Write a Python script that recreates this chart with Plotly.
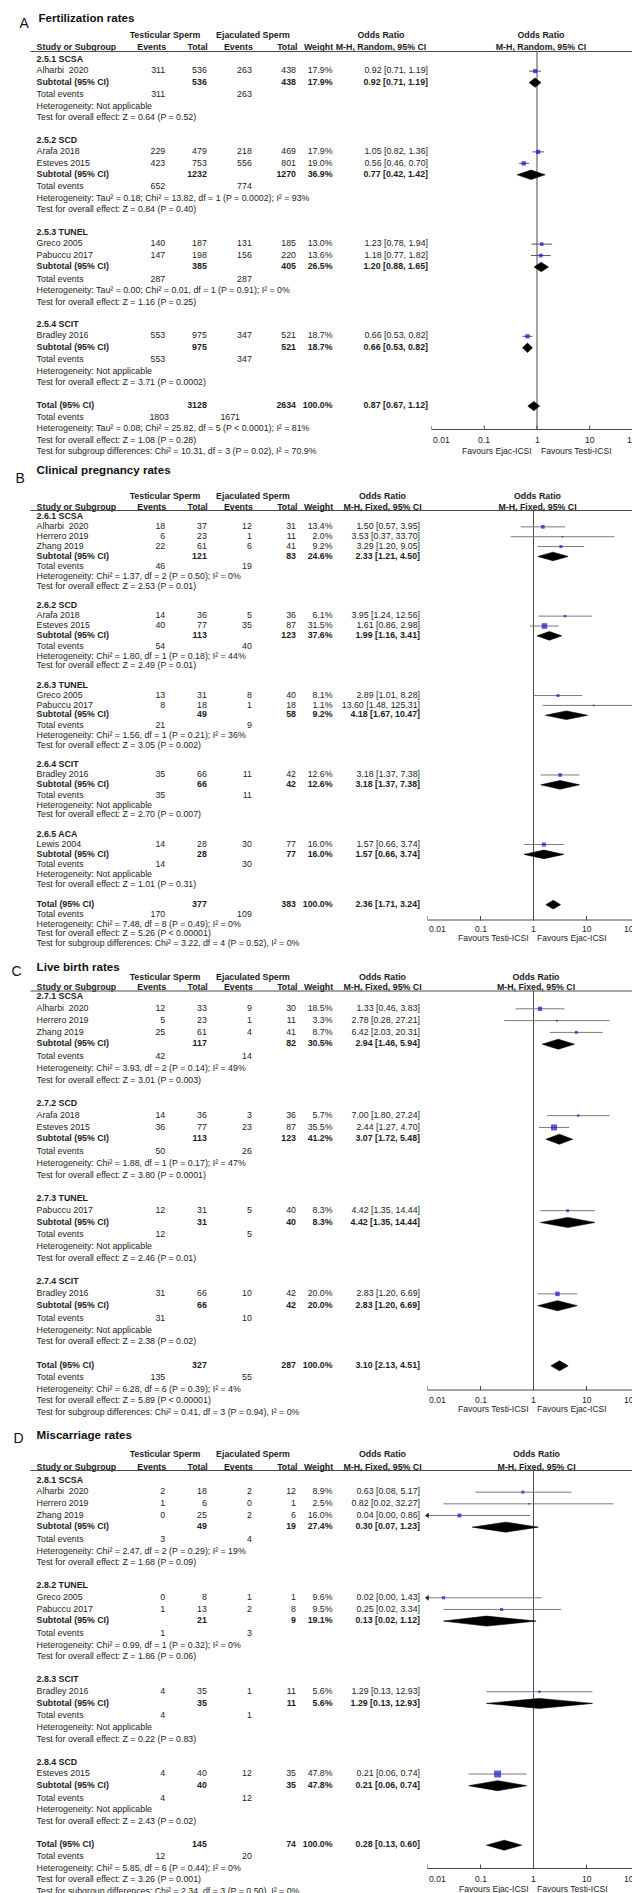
import math
import plotly.graph_objects as go

# ======================= DATA =======================
# ---- Panel A: Fertilization rates ----
A_letter, A_title, A_method = "A", "Fertilization rates", "M-H, Random, 95% CI"
A_favours = ["Favours Ejac-ICSI", "Favours Testi-ICSI"]
A_study = ["Alharbi  2020", "Arafa 2018", "Esteves 2015", "Greco 2005", "Pabuccu 2017", "Bradley 2016"]
A_group = [0, 1, 1, 2, 2, 3]
A_te = [311, 229, 423, 140, 147, 553]
A_tt = [536, 479, 753, 187, 198, 975]
A_ee = [263, 218, 556, 131, 156, 347]
A_et = [438, 469, 801, 185, 220, 521]
A_w = [17.9, 17.9, 19.0, 13.0, 13.6, 18.7]
A_or = [0.92, 1.05, 0.56, 1.23, 1.18, 0.66]
A_lo = [0.71, 0.82, 0.46, 0.78, 0.77, 0.53]
A_hi = [1.19, 1.36, 0.70, 1.94, 1.82, 0.82]
A_sub = ["2.5.1 SCSA", "2.5.2 SCD", "2.5.3 TUNEL", "2.5.4 SCIT"]
A_sub_tt = [536, 1232, 385, 975]
A_sub_et = [438, 1270, 405, 521]
A_sub_w = [17.9, 36.9, 26.5, 18.7]
A_sub_or = [0.92, 0.77, 1.20, 0.66]
A_sub_lo = [0.71, 0.42, 0.88, 0.53]
A_sub_hi = [1.19, 1.42, 1.65, 0.82]
A_sub_te = [311, 652, 287, 553]
A_sub_ee = [263, 774, 287, 347]
A_sub_het = ["Not applicable",
             "Tau² = 0.18; Chi² = 13.82, df = 1 (P = 0.0002); I² = 93%",
             "Tau² = 0.00; Chi² = 0.01, df = 1 (P = 0.91); I² = 0%",
             "Not applicable"]
A_sub_z = ["Z = 0.64 (P = 0.52)", "Z = 0.84 (P = 0.40)", "Z = 1.16 (P = 0.25)", "Z = 3.71 (P = 0.0002)"]
A_tot = [3128, 2634, 100.0, 0.87, 0.67, 1.12, 1803, 1671]
A_tot_het = "Tau² = 0.08; Chi² = 25.82, df = 5 (P < 0.0001); I² = 81%"
A_tot_z = "Z = 1.08 (P = 0.28)"
A_tot_subdiff = "Chi² = 10.31, df = 3 (P = 0.02), I² = 70.9%"

# ---- Panel B: Clinical pregnancy rates ----
B_letter, B_title, B_method = "B", "Clinical pregnancy rates", "M-H, Fixed, 95% CI"
B_favours = ["Favours Testi-ICSI", "Favours Ejac-ICSI"]
B_study = ["Alharbi  2020", "Herrero 2019", "Zhang 2019", "Arafa 2018", "Esteves 2015",
           "Greco 2005", "Pabuccu 2017", "Bradley 2016", "Lewis 2004"]
B_group = [0, 0, 0, 1, 1, 2, 2, 3, 4]
B_te = [18, 6, 22, 14, 40, 13, 8, 35, 14]
B_tt = [37, 23, 61, 36, 77, 31, 18, 66, 28]
B_ee = [12, 1, 6, 5, 35, 8, 1, 11, 30]
B_et = [31, 11, 41, 36, 87, 40, 18, 42, 77]
B_w = [13.4, 2.0, 9.2, 6.1, 31.5, 8.1, 1.1, 12.6, 16.0]
B_or = [1.50, 3.53, 3.29, 3.95, 1.61, 2.89, 13.60, 3.18, 1.57]
B_lo = [0.57, 0.37, 1.20, 1.24, 0.86, 1.01, 1.48, 1.37, 0.66]
B_hi = [3.95, 33.70, 9.05, 12.56, 2.98, 8.28, 125.31, 7.38, 3.74]
B_sub = ["2.6.1 SCSA", "2.6.2 SCD", "2.6.3 TUNEL", "2.6.4 SCIT", "2.6.5 ACA"]
B_sub_tt = [121, 113, 49, 66, 28]
B_sub_et = [83, 123, 58, 42, 77]
B_sub_w = [24.6, 37.6, 9.2, 12.6, 16.0]
B_sub_or = [2.33, 1.99, 4.18, 3.18, 1.57]
B_sub_lo = [1.21, 1.16, 1.67, 1.37, 0.66]
B_sub_hi = [4.50, 3.41, 10.47, 7.38, 3.74]
B_sub_te = [46, 54, 21, 35, 14]
B_sub_ee = [19, 40, 9, 11, 30]
B_sub_het = ["Chi² = 1.37, df = 2 (P = 0.50); I² = 0%",
             "Chi² = 1.80, df = 1 (P = 0.18); I² = 44%",
             "Chi² = 1.56, df = 1 (P = 0.21); I² = 36%",
             "Not applicable", "Not applicable"]
B_sub_z = ["Z = 2.53 (P = 0.01)", "Z = 2.49 (P = 0.01)", "Z = 3.05 (P = 0.002)",
           "Z = 2.70 (P = 0.007)", "Z = 1.01 (P = 0.31)"]
B_tot = [377, 383, 100.0, 2.36, 1.71, 3.24, 170, 109]
B_tot_het = "Chi² = 7.48, df = 8 (P = 0.49); I² = 0%"
B_tot_z = "Z = 5.26 (P < 0.00001)"
B_tot_subdiff = "Chi² = 3.22, df = 4 (P = 0.52), I² = 0%"

# ---- Panel C: Live birth rates ----
C_letter, C_title, C_method = "C", "Live birth rates", "M-H, Fixed, 95% CI"
C_favours = ["Favours Testi-ICSI", "Favours Ejac-ICSI"]
C_study = ["Alharbi  2020", "Herrero 2019", "Zhang 2019", "Arafa 2018", "Esteves 2015",
           "Pabuccu 2017", "Bradley 2016"]
C_group = [0, 0, 0, 1, 1, 2, 3]
C_te = [12, 5, 25, 14, 36, 12, 31]
C_tt = [33, 23, 61, 36, 77, 31, 66]
C_ee = [9, 1, 4, 3, 23, 5, 10]
C_et = [30, 11, 41, 36, 87, 40, 42]
C_w = [18.5, 3.3, 8.7, 5.7, 35.5, 8.3, 20.0]
C_or = [1.33, 2.78, 6.42, 7.00, 2.44, 4.42, 2.83]
C_lo = [0.46, 0.28, 2.03, 1.80, 1.27, 1.35, 1.20]
C_hi = [3.83, 27.21, 20.31, 27.24, 4.70, 14.44, 6.69]
C_sub = ["2.7.1 SCSA", "2.7.2 SCD", "2.7.3 TUNEL", "2.7.4 SCIT"]
C_sub_tt = [117, 113, 31, 66]
C_sub_et = [82, 123, 40, 42]
C_sub_w = [30.5, 41.2, 8.3, 20.0]
C_sub_or = [2.94, 3.07, 4.42, 2.83]
C_sub_lo = [1.46, 1.72, 1.35, 1.20]
C_sub_hi = [5.94, 5.48, 14.44, 6.69]
C_sub_te = [42, 50, 12, 31]
C_sub_ee = [14, 26, 5, 10]
C_sub_het = ["Chi² = 3.93, df = 2 (P = 0.14); I² = 49%",
             "Chi² = 1.88, df = 1 (P = 0.17); I² = 47%",
             "Not applicable", "Not applicable"]
C_sub_z = ["Z = 3.01 (P = 0.003)", "Z = 3.80 (P = 0.0001)", "Z = 2.46 (P = 0.01)", "Z = 2.38 (P = 0.02)"]
C_tot = [327, 287, 100.0, 3.10, 2.13, 4.51, 135, 55]
C_tot_het = "Chi² = 6.28, df = 6 (P = 0.39); I² = 4%"
C_tot_z = "Z = 5.89 (P < 0.00001)"
C_tot_subdiff = "Chi² = 0.41, df = 3 (P = 0.94), I² = 0%"

# ---- Panel D: Miscarriage rates ----
D_letter, D_title, D_method = "D", "Miscarriage rates", "M-H, Fixed, 95% CI"
D_favours = ["Favours Ejac-ICSI", "Favours Testi-ICSI"]
D_study = ["Alharbi  2020", "Herrero 2019", "Zhang 2019", "Greco 2005", "Pabuccu 2017",
           "Bradley 2016", "Esteves 2015"]
D_group = [0, 0, 0, 1, 1, 2, 3]
D_te = [2, 1, 0, 0, 1, 4, 4]
D_tt = [18, 6, 25, 8, 13, 35, 40]
D_ee = [2, 0, 2, 1, 2, 1, 12]
D_et = [12, 1, 6, 1, 8, 11, 35]
D_w = [8.9, 2.5, 16.0, 9.6, 9.5, 5.6, 47.8]
D_or = [0.63, 0.82, 0.04, 0.02, 0.25, 1.29, 0.21]
D_lo = [0.08, 0.02, 0.00, 0.00, 0.02, 0.13, 0.06]
D_hi = [5.17, 32.27, 0.86, 1.43, 3.34, 12.93, 0.74]
D_sub = ["2.8.1 SCSA", "2.8.2 TUNEL", "2.8.3 SCIT", "2.8.4 SCD"]
D_sub_tt = [49, 21, 35, 40]
D_sub_et = [19, 9, 11, 35]
D_sub_w = [27.4, 19.1, 5.6, 47.8]
D_sub_or = [0.30, 0.13, 1.29, 0.21]
D_sub_lo = [0.07, 0.02, 0.13, 0.06]
D_sub_hi = [1.23, 1.12, 12.93, 0.74]
D_sub_te = [3, 1, 4, 4]
D_sub_ee = [4, 3, 1, 12]
D_sub_het = ["Chi² = 2.47, df = 2 (P = 0.29); I² = 19%",
             "Chi² = 0.99, df = 1 (P = 0.32); I² = 0%",
             "Not applicable", "Not applicable"]
D_sub_z = ["Z = 1.68 (P = 0.09)", "Z = 1.86 (P = 0.06)", "Z = 0.22 (P = 0.83)", "Z = 2.43 (P = 0.02)"]
D_tot = [145, 74, 100.0, 0.28, 0.13, 0.60, 12, 20]
D_tot_het = "Chi² = 5.85, df = 6 (P = 0.44); I² = 0%"
D_tot_z = "Z = 3.26 (P = 0.001)"
D_tot_subdiff = "Chi² = 2.34, df = 3 (P = 0.50), I² = 0%"

TICK_VALUES = [0.01, 0.1, 1, 10, 100]
TICK_LABELS = ["0.01", "0.1", "1", "10", "100"]

# ======================= LAYOUT (pixels) =======================
W, H = 640, 1893
FONT = "Liberation Sans, Arial, Helvetica, sans-serif"
FS = 8.8
TXT = "#1c1c1c"
GRID = "#4a4a4a"
BLUE = "#1212d8"

X_STUDY = 28.6
X_TE, X_TT, X_EE, X_ET, X_W = 157.2, 198.8, 243.8, 288, 324.6
X_TS_HDR, X_EJ_HDR = 157, 245
X_LINE0 = 22.4

LAYS = [
    dict(ax="x2", letter_x=11.5, letter_y=16.7, title_x=30.5, title_y=11, h1=28.3, h2=40.3, line=43.5,
         start=51.7, L=11.45, e=1.0, G=22.5, T=23.0, axis=421.5, tick=432.3, fav=442.7, dh=4.7,
         xor=420, xorh=373, xfh=533, tot_ev=(161, 232), ci="#555555"),
    dict(ax="x3", letter_x=7.5, letter_y=471.7, title_x=28.6, title_y=463.3, h1=489, h2=499.5, line=502.5,
         start=509, L=9.86, e=0.86, G=19.4, T=19.8, axis=912, tick=921, fav=929.5, dh=4.3,
         xor=412, xorh=374.5, xfh=529.5, tot_ev=(X_TE, X_EE), ci="#7a7a7a"),
    dict(ax="x3", letter_x=3.5, letter_y=964.5, title_x=28.6, title_y=960, h1=969.5, h2=980, line=983,
         start=989, L=11.8, e=1.03, G=23.2, T=23.7, axis=1382, tick=1392, fav=1400.5, dh=5.0,
         xor=412, xorh=374.5, xfh=528, tot_ev=(X_TE, X_EE), ci="#7a7a7a"),
    dict(ax="x3", letter_x=5.5, letter_y=1431.5, title_x=28.6, title_y=1428, h1=1447, h2=1459.5,
         line=1462.5, start=1472.5, L=11.66, e=1.0, G=23.0, T=23.5, axis=1860.5, tick=1871, fav=1881,
         dh=5.0, xor=412, xorh=374.5, xfh=528.5, tot_ev=(X_TE, X_EE), ci="#7a7a7a"),
]
AX_DOMAINS = {"x2": [423.5 / W, 634.5 / W], "x3": [419.5 / W, 631.5 / W]}


def make_panel(p):
    g = globals()
    keys = ["letter", "title", "method", "favours", "study", "group", "te", "tt", "ee", "et", "w", "or",
            "lo", "hi", "sub", "sub_tt", "sub_et", "sub_w", "sub_or", "sub_lo", "sub_hi", "sub_te",
            "sub_ee", "sub_het", "sub_z", "tot", "tot_het", "tot_z", "tot_subdiff"]
    return {k: g[p + "_" + k] for k in keys}


PANELS = [make_panel(p) for p in "ABCD"]

texts = {"l": [], "r": [], "c": []}


def add(x, y, t, a, b=False):
    texts[a].append((x, y, "<b>%s</b>" % t if b else t))


def fmt_or(o, l, h):
    return "%.2f [%.2f, %.2f]" % (o, l, h)


def clip(v):
    return min(max(v, TICK_VALUES[0]), TICK_VALUES[-1])


letters, titles = [], []
hl_x, hl_y = [], []
annotations = []
forest = {}   # per x-axis collections


def fget(ax):
    if ax not in forest:
        forest[ax] = dict(sq_x=[], sq_y=[], sq_s=[], dia_x=[], dia_y=[], arrL=[], arrR=[],
                          ln_x=[], ln_y=[], ci={})
    return forest[ax]


for P, Y in zip(PANELS, LAYS):
    L = Y["L"]
    F = fget(Y["ax"])
    ci = F["ci"].setdefault(Y["ci"], ([], []))
    letters.append((Y["letter_x"], Y["letter_y"], P["letter"]))
    titles.append((Y["title_x"], Y["title_y"], P["title"]))
    add(X_TS_HDR, Y["h1"], "Testicular Sperm", "c", True)
    add(X_EJ_HDR, Y["h1"], "Ejaculated Sperm", "c", True)
    add(Y["xorh"], Y["h1"], "Odds Ratio", "c", True)
    add(Y["xfh"], Y["h1"], "Odds Ratio", "c", True)
    add(X_STUDY, Y["h2"], "Study or Subgroup", "l", True)
    add(X_TE + 1, Y["h2"], "Events", "r", True)
    add(X_TT + 1, Y["h2"], "Total", "r", True)
    add(X_EE + 1, Y["h2"], "Events", "r", True)
    add(X_ET + 1.5, Y["h2"], "Total", "r", True)
    add(X_W + 0.5, Y["h2"], "Weight", "r", True)
    add(Y["xorh"], Y["h2"], P["method"], "c", True)
    add(Y["xfh"], Y["h2"], P["method"], "c", True)
    hl_x += [X_LINE0, W, None]
    hl_y += [Y["line"], Y["line"], None]

    y = Y["start"]
    ng = len(P["sub"])
    for gi in range(ng):
        add(X_STUDY, y, P["sub"][gi], "l", True)
        for i, gg in enumerate(P["group"]):
            if gg != gi:
                continue
            y += L
            add(X_STUDY, y, P["study"][i], "l")
            add(X_TE, y, str(P["te"][i]), "r")
            add(X_TT, y, str(P["tt"][i]), "r")
            add(X_EE, y, str(P["ee"][i]), "r")
            add(X_ET, y, str(P["et"][i]), "r")
            add(X_W, y, "%.1f%%" % P["w"][i], "r")
            add(Y["xor"], y, fmt_or(P["or"][i], P["lo"][i], P["hi"][i]), "r")
            lo, hi = P["lo"][i], P["hi"][i]
            ci[0].extend([clip(lo), clip(hi), None])
            ci[1].extend([y, y, None])
            if lo < TICK_VALUES[0]:
                F["arrL"].append(y)
            if hi > TICK_VALUES[-1]:
                F["arrR"].append(y)
            F["sq_x"].append(P["or"][i])
            F["sq_y"].append(y)
            F["sq_s"].append(max(1.6, P["w"][i] ** 0.5))
        y += L
        add(X_STUDY, y, "Subtotal (95% CI)", "l", True)
        add(X_TT, y, str(P["sub_tt"][gi]), "r", True)
        add(X_ET, y, str(P["sub_et"][gi]), "r", True)
        add(X_W, y, "%.1f%%" % P["sub_w"][gi], "r", True)
        add(Y["xor"], y, fmt_or(P["sub_or"][gi], P["sub_lo"][gi], P["sub_hi"][gi]), "r", True)
        o, lo, hi, dh = P["sub_or"][gi], P["sub_lo"][gi], P["sub_hi"][gi], Y["dh"]
        F["dia_x"] += [lo, o, hi, o, lo, None]
        F["dia_y"] += [y, y - dh, y, y + dh, y, None]
        y += L + Y["e"]
        add(X_STUDY, y, "Total events", "l")
        add(X_TE, y, str(P["sub_te"][gi]), "r")
        add(X_EE, y, str(P["sub_ee"][gi]), "r")
        y += L
        add(X_STUDY, y, "Heterogeneity: " + P["sub_het"][gi], "l")
        y += L
        add(X_STUDY, y, "Test for overall effect: " + P["sub_z"][gi], "l")
        if gi < ng - 1:
            y += Y["G"]
    y += Y["T"]
    t = P["tot"]
    add(X_STUDY, y, "Total (95% CI)", "l", True)
    add(X_TT, y, str(t[0]), "r", True)
    add(X_ET, y, str(t[1]), "r", True)
    add(X_W, y, "%.1f%%" % t[2], "r", True)
    add(Y["xor"], y, fmt_or(t[3], t[4], t[5]), "r", True)
    dh = Y["dh"]
    F["dia_x"] += [t[4], t[3], t[5], t[3], t[4], None]
    F["dia_y"] += [y, y - dh, y, y + dh, y, None]
    y += L
    add(X_STUDY, y, "Total events", "l")
    add(Y["tot_ev"][0], y, str(t[6]), "r")
    add(Y["tot_ev"][1], y, str(t[7]), "r")
    y += L
    add(X_STUDY, y, "Heterogeneity: " + P["tot_het"], "l")
    y += L
    add(X_STUDY, y, "Test for overall effect: " + P["tot_z"], "l")
    y += L
    add(X_STUDY, y, "Test for subgroup differences: " + P["tot_subdiff"], "l")

    # forest frame: null line, axis, ticks, labels
    F["ln_x"] += [1, 1, None, TICK_VALUES[0], TICK_VALUES[-1], None]
    F["ln_y"] += [Y["line"], Y["axis"], None, Y["axis"], Y["axis"], None]
    for k, v in enumerate(TICK_VALUES):
        F["ln_x"] += [v, v, None]
        F["ln_y"] += [Y["axis"] + 0.5, Y["axis"] - 4, None]
        anchor = "left" if k == 0 else ("right" if k == len(TICK_VALUES) - 1 else "center")
        annotations.append(dict(x=math.log10(v), y=Y["tick"], xref=Y["ax"], yref="y",
                                text=TICK_LABELS[k], showarrow=False, xanchor=anchor, yanchor="middle",
                                borderpad=0, font=dict(family=FONT, size=8.6, color=TXT)))
    for lab, xa, sh in [(P["favours"][0], "right", -4), (P["favours"][1], "left", 2.5)]:
        annotations.append(dict(x=0, y=Y["fav"], xref=Y["ax"], yref="y", text=lab, showarrow=False,
                                xanchor=xa, yanchor="middle", xshift=sh, borderpad=0,
                                font=dict(family=FONT, size=8.6, color=TXT)))

fig = go.Figure()

posmap = {"l": "middle right", "r": "middle left", "c": "middle center"}
for a, lst in texts.items():
    fig.add_trace(go.Scatter(x=[v[0] for v in lst], y=[v[1] for v in lst], text=[v[2] for v in lst],
                             mode="text", textposition=posmap[a], cliponaxis=False,
                             textfont=dict(family=FONT, size=FS, color=TXT),
                             xaxis="x", yaxis="y", hoverinfo="skip", showlegend=False))
fig.add_trace(go.Scatter(x=[v[0] for v in titles], y=[v[1] for v in titles],
                         text=["<b>%s</b>" % v[2] for v in titles], mode="text",
                         textposition="middle right", cliponaxis=False,
                         textfont=dict(family=FONT, size=11.6, color="#111111"),
                         hoverinfo="skip", showlegend=False))
fig.add_trace(go.Scatter(x=[v[0] for v in letters], y=[v[1] for v in letters],
                         text=[v[2] for v in letters], mode="text",
                         textposition="middle right", cliponaxis=False,
                         textfont=dict(family=FONT, size=14, color="#111111"),
                         hoverinfo="skip", showlegend=False))
fig.add_trace(go.Scatter(x=hl_x, y=hl_y, mode="lines", line=dict(color=GRID, width=1),
                         hoverinfo="skip", showlegend=False))

for ax, F in forest.items():
    common = dict(xaxis=ax, yaxis="y", hoverinfo="skip", showlegend=False, cliponaxis=False)
    fig.add_trace(go.Scatter(x=F["ln_x"], y=F["ln_y"], mode="lines", line=dict(color=GRID, width=1),
                             **common))
    for col, (cx, cy) in F["ci"].items():
        fig.add_trace(go.Scatter(x=cx, y=cy, mode="lines", line=dict(color=col, width=1), **common))
    fig.add_trace(go.Scatter(x=[TICK_VALUES[0]] * len(F["arrL"]), y=F["arrL"], mode="markers",
                             marker=dict(symbol="triangle-left", size=5, color="#222222"), **common))
    fig.add_trace(go.Scatter(x=[TICK_VALUES[-1]] * len(F["arrR"]), y=F["arrR"], mode="markers",
                             marker=dict(symbol="triangle-right", size=5, color="#222222"), **common))
    fig.add_trace(go.Scatter(x=F["sq_x"], y=F["sq_y"], mode="markers",
                             marker=dict(symbol="square", size=F["sq_s"], color=BLUE, line=dict(width=0)),
                             **common))
    fig.add_trace(go.Scatter(x=F["dia_x"], y=F["dia_y"], mode="lines", fill="toself", fillcolor="#000000",
                             line=dict(color="#000000", width=0.6), **common))

fig.update_layout(
    width=W, height=H, margin=dict(l=0, r=0, t=0, b=0, pad=0),
    paper_bgcolor="white", plot_bgcolor="rgba(0,0,0,0)",
    xaxis=dict(range=[0, W], domain=[0, 1], visible=False, fixedrange=True),
    xaxis2=dict(type="log", range=[-2, 2], domain=AX_DOMAINS["x2"], anchor="y", visible=False,
                fixedrange=True),
    xaxis3=dict(type="log", range=[-2, 2], domain=AX_DOMAINS["x3"], anchor="y", visible=False,
                fixedrange=True),
    yaxis=dict(range=[H, 0], domain=[0, 1], visible=False, fixedrange=True),
    annotations=annotations,
    showlegend=False,
)

fig.write_html("out.html", config={"displayModeBar": False})
